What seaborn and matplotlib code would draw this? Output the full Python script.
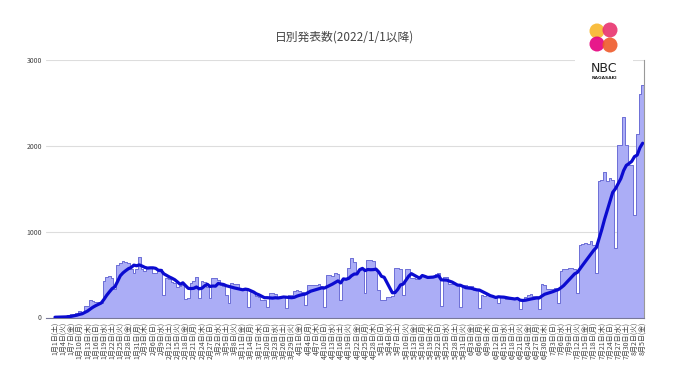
import numpy as np
import pandas as pd
import matplotlib
matplotlib.use('Agg')
import matplotlib.pyplot as plt
import seaborn as sns
from matplotlib.patches import Circle, Rectangle

# daily announced counts, 2022/1/1 onward (one value per day)
jan = [3, 5, 4, 8, 15, 25, 35, 45, 55, 70, 60, 130, 135, 200, 195, 180, 175, 170,
       420, 470, 480, 460, 330, 610, 630, 660, 650, 640, 560, 520, 560]
feb = [700, 570, 540, 580, 580, 520, 520, 540, 565, 260, 455, 450, 415, 400, 360,
       370, 380, 220, 230, 400, 420, 470, 223, 424, 410, 360, 225, 455]
mar = [460, 440, 380, 370, 260, 165, 400, 395, 390, 330, 320, 315, 126, 300, 300,
       245, 240, 205, 200, 126, 280, 285, 275, 222, 240, 245, 107, 260, 265, 310, 320]
apr = [310, 300, 145, 380, 380, 375, 380, 385, 370, 126, 490, 495, 480, 515, 510,
       203, 455, 460, 575, 690, 650, 520, 550, 560, 280, 665, 670, 660, 560, 320]
may = [205, 200, 240, 240, 250, 580, 580, 570, 262, 560, 565, 460, 455, 450, 455,
       480, 485, 480, 475, 470, 510, 515, 134, 475, 470, 390, 395, 385, 390, 126, 370]
jun = [375, 365, 370, 320, 330, 107, 260, 255, 260, 250, 255, 245, 165, 240, 245,
       215, 210, 220, 215, 210, 97, 220, 240, 260, 270, 255, 250, 97, 385, 380]
jul = [330, 335, 330, 340, 174, 540, 560, 570, 575, 580, 560, 290, 850, 860, 870,
       860, 897, 850, 522, 1585, 1600, 1693, 1585, 1624, 1600, 812, 2010, 2010, 2339,
       2010, 1778]
aug = [1778, 1198, 2134, 2609, 2706]

weekdays = ['月', '火', '水', '木', '金', '土', '日']
title = '日別発表数(2022/1/1以降)'
y_ticks = [0, 1000, 2000, 3000]

counts = jan + feb + mar + apr + may + jun + jul + aug
dates = pd.date_range('2022-01-01', periods=len(counts), freq='D')
df = pd.DataFrame({'day': np.arange(len(counts)), 'count': counts})
df['avg'] = df['count'].rolling(7, min_periods=1).mean()

sns.set_style('white')
plt.rcParams['font.family'] = ['Noto Sans CJK JP', 'DejaVu Sans']

fig = plt.figure(figsize=(6.8, 3.82), dpi=100)
ax = fig.add_axes([46 / 680, 1 - 317.5 / 382, 598 / 680, 257.5 / 382])

# stepped area of daily counts
sns.histplot(data=df, x='day', weights='count', discrete=True, element='step',
             fill=True, facecolor='#abadf6', edgecolor='#6c6ed6', linewidth=0.7,
             alpha=1, ax=ax, zorder=2)
# 7-day average
sns.lineplot(data=df, x='day', y='avg', color='#0b0bd0', linewidth=2.3, ax=ax, zorder=3)

ax.set_xlim(-3.3, len(counts) - 0.5)
ax.set_ylim(0, 3000)
ax.set_yticks(y_ticks)
ax.set_yticklabels([str(v) for v in y_ticks], fontsize=5, color='#444444')
tick_days = df['day'][::3]
labels = [f'{d.month}月{d.day}日({weekdays[d.weekday()]})' for d in dates[::3]]
ax.set_xticks(tick_days)
ax.set_xticklabels(labels, rotation=90, fontsize=5, color='#444444')
ax.tick_params(length=0, pad=3)
ax.grid(axis='y', color='#dddddd', linewidth=0.8, zorder=0)
ax.set_axisbelow(True)
ax.set_xlabel('')
ax.set_ylabel('')
for s in ['left', 'top']:
    ax.spines[s].set_visible(False)
ax.spines['right'].set_color('#999999')
ax.spines['right'].set_linewidth(0.8)
ax.spines['bottom'].set_color('#777799')
ax.spines['bottom'].set_linewidth(0.8)

fig.text(345 / 680, 1 - 37 / 382, title, ha='center', va='center',
         fontsize=8.5, color='#444444')

# logo
fig.patches.append(Rectangle((575 / 680, 1 - 86 / 382), 58 / 680, 34 / 382,
                             transform=fig.transFigure, facecolor='white',
                             edgecolor='none', zorder=5))
lax = fig.add_axes([584 / 680, 1 - 58 / 382, 40 / 680, 40 / 382], zorder=6)
lax.set_xlim(584, 624)
lax.set_ylim(58, 18)
lax.axis('off')
for (cx, cy, col) in [(597, 31, '#f8b62b'), (610, 30, '#e8336e'),
                      (597, 44, '#e5007f'), (610, 45, '#ef5a2a')]:
    lax.add_patch(Circle((cx, cy), 7.5, color=col, alpha=0.9, lw=0))
fig.text(604 / 680, 1 - 68 / 382, 'NBC', ha='center', va='center', fontsize=9,
         color='#222222', zorder=7, family='DejaVu Sans')
fig.text(604 / 680, 1 - 78 / 382, 'NAGASAKI', ha='center', va='center',
         fontsize=3.2, color='#222222', zorder=7, family='DejaVu Sans',
         fontweight='bold')

fig.savefig('out.png', dpi=100, facecolor='white')
